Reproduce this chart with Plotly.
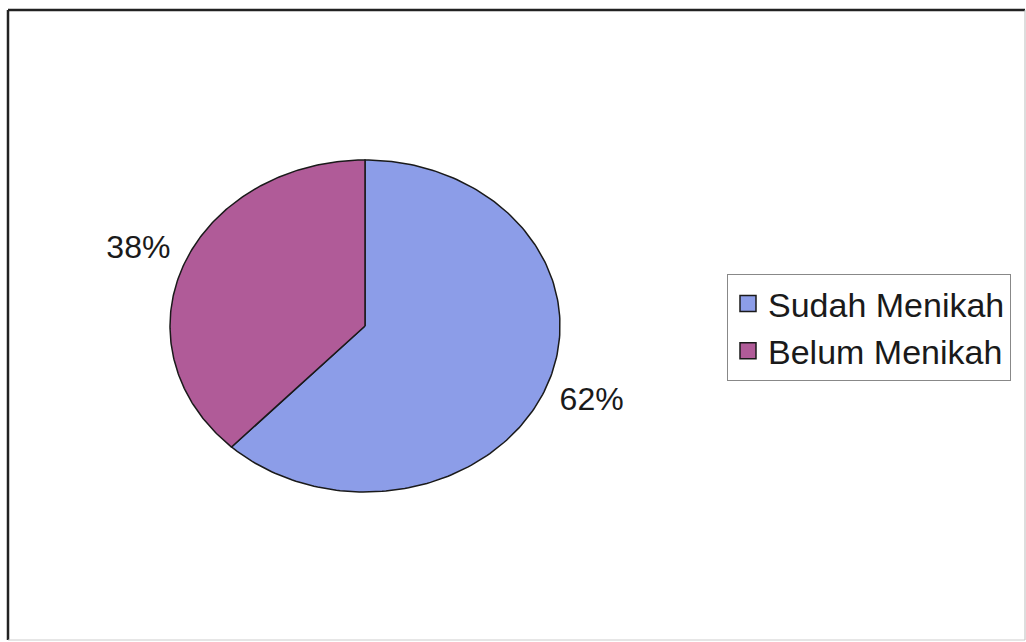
import numpy as np
import plotly.graph_objects as go

# Marital status shares (percent)
categories = ["Sudah Menikah", "Belum Menikah"]
shares = [62, 38]
colors = ["#8C9DE8", "#B05B98"]

W, H = 1026, 642
# Pie geometry in pixel coordinates (slightly wider than tall)
cx, cy, rx, ry = 365, 326, 195, 166
FONT = "Arial, Liberation Sans, sans-serif"

fig = go.Figure()

total = sum(shares)
start = 0.0
label_pos = []
for name, val, col in zip(categories, shares, colors):
    frac = val / total
    t = np.linspace(start, start + frac, 200) * 2 * np.pi  # clockwise from 12 o'clock
    xs = np.concatenate([[cx], cx + rx * np.sin(t), [cx]])
    ys = np.concatenate([[cy], cy - ry * np.cos(t), [cy]])
    fig.add_trace(go.Scatter(
        x=xs, y=ys, mode="lines", fill="toself", fillcolor=col,
        line=dict(color="#1a1a1a", width=1.5),
        hoverinfo="skip", showlegend=False,
    ))
    mid = (start + frac / 2) * 2 * np.pi
    label_pos.append((cx + 1.25 * rx * np.sin(mid), cy - 1.25 * ry * np.cos(mid), f"{val}%"))
    start += frac

# Percentage labels outside the slices
fig.add_trace(go.Scatter(
    x=[p[0] for p in label_pos], y=[p[1] for p in label_pos],
    text=[p[2] for p in label_pos], mode="text",
    textfont=dict(family=FONT, size=32, color="#1a1a1a"),
    hoverinfo="skip", showlegend=False,
))

# Legend entries
for name, col in zip(categories, colors):
    fig.add_trace(go.Scatter(
        x=[None], y=[None], mode="markers", name=name,
        marker=dict(symbol="square", size=16, color=col,
                    line=dict(color="#1a1a1a", width=1.5)),
    ))

# Chart frame
fig.add_shape(type="line", x0=8, y0=10, x1=1025, y1=10, line=dict(color="#222", width=2.5))
fig.add_shape(type="line", x0=8, y0=10, x1=8, y1=640, line=dict(color="#222", width=2.5))
fig.add_shape(type="line", x0=1025, y0=10, x1=1025, y1=640, line=dict(color="#bbb", width=1))
fig.add_shape(type="line", x0=8, y0=640, x1=1025, y1=640, line=dict(color="#ccc", width=1))

fig.update_layout(
    width=W, height=H,
    margin=dict(l=0, r=0, t=0, b=0),
    paper_bgcolor="white", plot_bgcolor="white",
    xaxis=dict(range=[0, W], visible=False, fixedrange=True),
    yaxis=dict(range=[H, 0], visible=False, fixedrange=True),
    showlegend=True,
    legend=dict(
        x=727 / W, y=1 - 274 / H, xanchor="left", yanchor="top",
        bgcolor="white", bordercolor="#888", borderwidth=1,
        font=dict(family=FONT, size=34, color="#1a1a1a"),
        itemwidth=30,
    ),
)

fig.write_html("out.html")
